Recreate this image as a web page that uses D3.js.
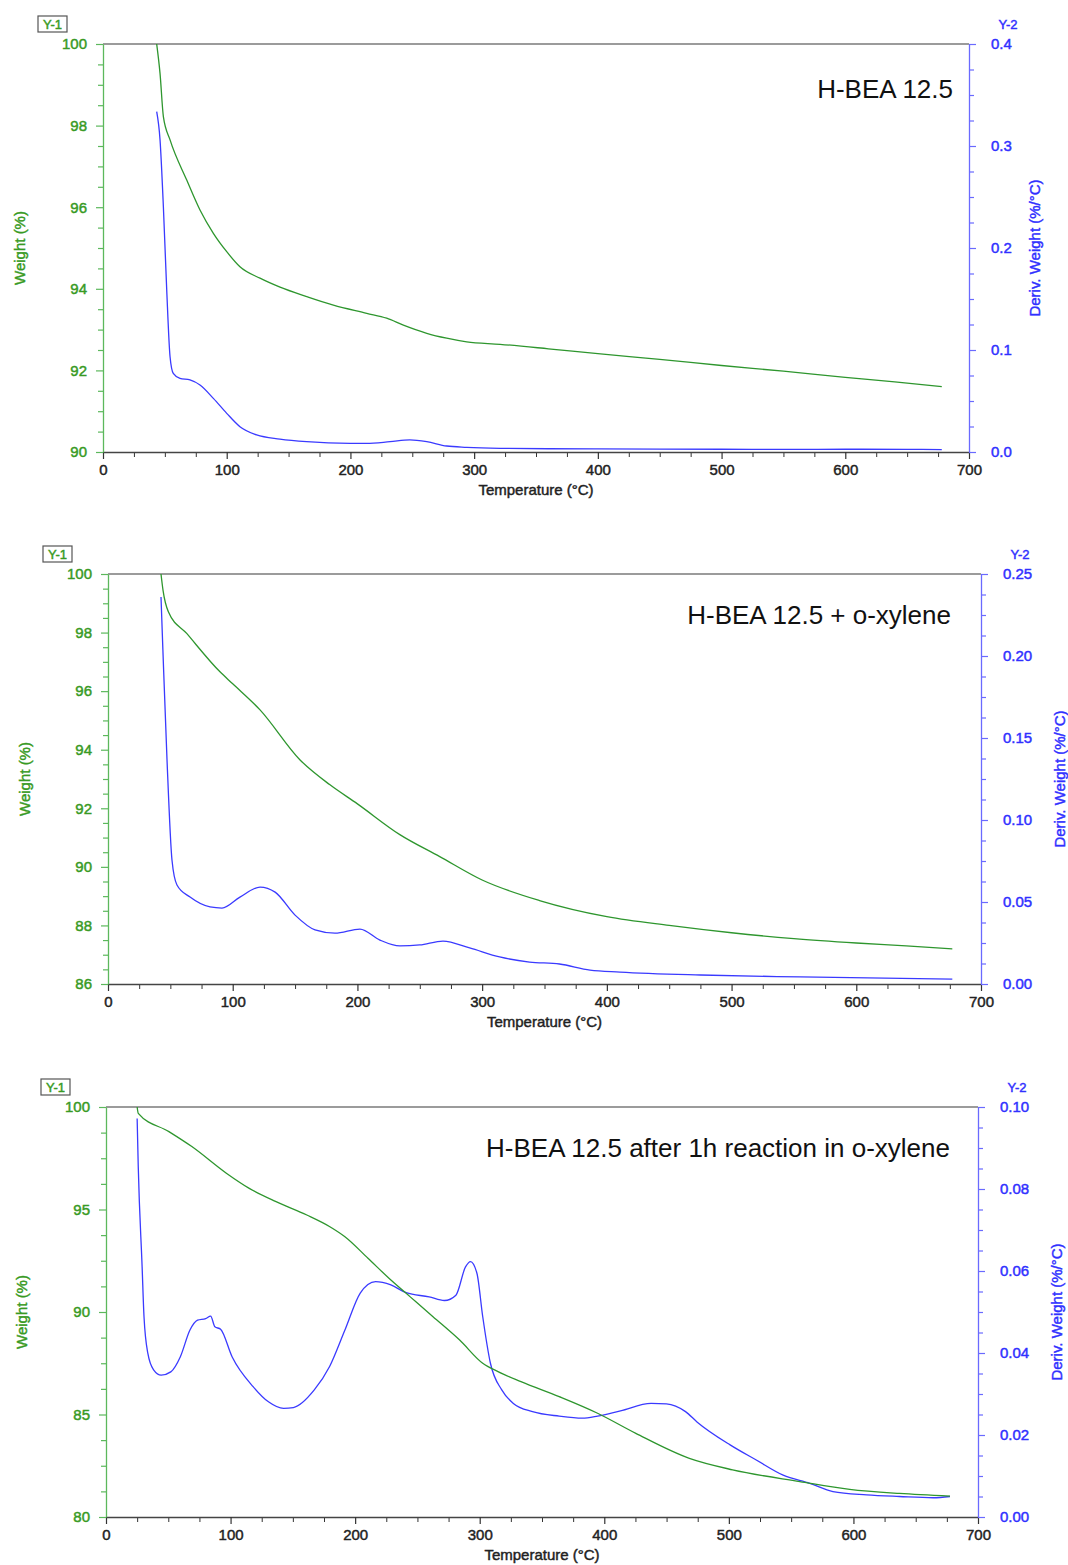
<!DOCTYPE html>
<html>
<head>
<meta charset="utf-8">
<script src="https://cdn.jsdelivr.net/npm/d3@7"></script>
<style>
  body { margin: 0; background: #fff; }
  svg { display: block; font-family: "Liberation Sans", Arial, sans-serif; }
  .heavy { stroke-width: 0.45px; }
</style>
</head>
<body>
<svg id="chart"></svg>
<script>
// ---- data ----
var xTicks = [0, 100, 200, 300, 400, 500, 600, 700];

// H-BEA 12.5
var wT1 = [43.4, 46.1, 48.8, 54.2, 67.6, 78.4, 89.2, 100, 110.7, 126.9, 143.1, 164.6, 186.2, 213.2, 229.3, 242.8, 261.7, 277.8, 294, 321, 360, 400, 450, 500, 550, 600, 640, 678];
var w1  = [100, 99.28, 98.22, 97.65, 96.67, 95.93, 95.36, 94.91, 94.54, 94.26, 94.04, 93.81, 93.60, 93.40, 93.28, 93.11, 92.91, 92.79, 92.70, 92.64, 92.53, 92.41, 92.27, 92.12, 91.98, 91.83, 91.72, 91.60];
var dT1 = [43.4, 46.1, 48.8, 51.5, 54.2, 56.8, 62.2, 70.3, 78.4, 89.2, 100, 110.7, 124.2, 143, 164.6, 199.7, 213, 232, 248, 261.7, 277.8, 294, 321, 360, 400, 450, 500, 550, 600, 650, 678];
var d1  = [0.3336, 0.306, 0.2405, 0.159, 0.0934, 0.0771, 0.0722, 0.0706, 0.0657, 0.0526, 0.0379, 0.0248, 0.0167, 0.0127, 0.0101, 0.0085, 0.0085, 0.0101, 0.0118, 0.0101, 0.0059, 0.0046, 0.0036, 0.0032, 0.003, 0.0028, 0.0027, 0.0026, 0.0027, 0.0026, 0.0024];
var y1Ticks1 = [90, 92, 94, 96, 98, 100];
var y2Ticks1 = [0, 0.1, 0.2, 0.3, 0.4];

// H-BEA 12.5 + o-xylene
var wT2 = [42.5, 44.1, 48.4, 63.1, 89.8, 100, 121.9, 154, 178, 200, 234, 266, 300, 346, 400, 450, 500, 550, 600, 640, 677];
var w2  = [100, 99.45, 98.71, 97.97, 96.66, 96.25, 95.36, 93.65, 92.8, 92.15, 91.1, 90.35, 89.55, 88.85, 88.3, 88.0, 87.75, 87.55, 87.4, 87.3, 87.2];
var dT2 = [42.5, 44, 47.3, 51.3, 55.3, 65.8, 81.8, 91.4, 105.8, 121.9, 134, 150, 166, 182, 202, 218, 234, 250, 268.6, 290, 314, 338, 362, 386.5, 410.5, 475, 555, 677];
var d2  = [0.236, 0.204, 0.137, 0.0756, 0.0604, 0.053, 0.047, 0.0463, 0.053, 0.0591, 0.056, 0.042, 0.033, 0.031, 0.0335, 0.0268, 0.0232, 0.0238, 0.0262, 0.022, 0.0165, 0.0134, 0.0122, 0.0085, 0.0073, 0.0055, 0.0043, 0.003];
var y1Ticks2 = [86, 88, 90, 92, 94, 96, 98, 100];
var y2Ticks2 = [0, 0.05, 0.10, 0.15, 0.20, 0.25];

// H-BEA 12.5 after 1h reaction in o-xylene
var wT3 = [25, 25.9, 50.5, 68.9, 96.6, 115, 136.5, 161.2, 179.7, 191.8, 210.3, 228.7, 244, 262.5, 283.9, 302.4, 314.7, 333.1, 363.8, 394.6, 425.3, 468.3, 503, 557, 597, 637, 677.5];
var w3  = [100, 99.69, 98.8, 98.07, 96.77, 96.03, 95.38, 94.73, 94.16, 93.67, 92.62, 91.56, 90.75, 89.77, 88.63, 87.5, 87.09, 86.6, 85.87, 85.06, 84.08, 82.86, 82.3, 81.73, 81.35, 81.15, 81.02];
var dT3 = [25, 25.9, 29, 30.5, 33.6, 38.2, 44.3, 52, 59.7, 67.4, 73.5, 80, 84, 87.4, 92, 101.2, 118.1, 130.4, 142.6, 150.4, 167.2, 179.5, 191.8, 204.1, 216.4, 228.7, 241, 259.4, 271.7, 280.9, 288.6, 292.6, 297.8, 302.4, 308.6, 317.7, 327, 342.4, 363.8, 382.3, 394.6, 413, 437.6, 449.9, 465.2, 474.4, 501, 522, 543.6, 565, 583.6, 610.6, 637, 664, 677.5];
var d3v = [0.0972, 0.0854, 0.061, 0.0489, 0.0399, 0.0359, 0.0346, 0.0354, 0.0391, 0.0456, 0.048, 0.0484, 0.049, 0.0464, 0.0458, 0.0391, 0.0318, 0.0281, 0.0265, 0.0267, 0.031, 0.0367, 0.0456, 0.0546, 0.0574, 0.0566, 0.0547, 0.0537, 0.0528, 0.0541, 0.061, 0.0623, 0.0594, 0.0489, 0.0375, 0.031, 0.0277, 0.0257, 0.0246, 0.0241, 0.0246, 0.0259, 0.0277, 0.0276, 0.0257, 0.0232, 0.0176, 0.0139, 0.0102, 0.0082, 0.0062, 0.0054, 0.005, 0.0047, 0.005];
var y1Ticks3 = [80, 85, 90, 95, 100];
var y2Ticks3 = [0, 0.02, 0.04, 0.06, 0.08, 0.10];

// ---- layout ----
var GREEN = "#2e962e", GREEN_TXT = "#389a24", GREEN_AX = "#5cb85c";
var BLUE = "#3a3aff", BLUE_TXT = "#3030ff", BLUE_AX = "#6a6aff";

var panels = [
  { left: 103, right: 969, top: 44, bottom: 452, title: "H-BEA 12.5", titleX: 953, titleY: 98,
    wT: wT1, w: w1, dT: dT1, d: d1, y1Ticks: y1Ticks1, y1Minor: 0.5, y1Fmt: d3.format("d"),
    y2Ticks: y2Ticks1, y2Minor: 0.025, y2Fmt: d3.format(".1f"), wLabelX: 20, dLabelX: 1035 },
  { left: 108, right: 981, top: 574, bottom: 984, title: "H-BEA 12.5 + o-xylene", titleX: 951, titleY: 624,
    wT: wT2, w: w2, dT: dT2, d: d2, y1Ticks: y1Ticks2, y1Minor: 0.5, y1Fmt: d3.format("d"),
    y2Ticks: y2Ticks2, y2Minor: 0.0125, y2Fmt: d3.format(".2f"), wLabelX: 25, dLabelX: 1060 },
  { left: 106, right: 978, top: 1107, bottom: 1517, title: "H-BEA 12.5 after 1h reaction in o-xylene", titleX: 950, titleY: 1157,
    wT: wT3, w: w3, dT: dT3, d: d3v, y1Ticks: y1Ticks3, y1Minor: 1.25, y1Fmt: d3.format("d"),
    y2Ticks: y2Ticks3, y2Minor: 0.005, y2Fmt: d3.format(".2f"), wLabelX: 22, dLabelX: 1057 }
];

var svg = d3.select("#chart").attr("width", 1068).attr("height", 1565);

function minorTicks(ticks, step) {
  var lo = d3.min(ticks), hi = d3.max(ticks);
  return d3.range(lo, hi + step / 2, step).filter(function (v) {
    return ticks.every(function (t) { return Math.abs(t - v) > step / 10; });
  });
}

// heavier text like the instrument software export
function heavy(sel, color) {
  sel.attr("fill", color).attr("stroke", color).attr("class", "heavy");
}

function styleAxis(g, lineColor, textColor) {
  g.select(".domain").attr("stroke", lineColor).attr("stroke-width", 1.3);
  g.selectAll(".tick line").attr("stroke", lineColor).attr("stroke-width", 1.2);
  g.selectAll("text").attr("font-size", 15)
    .attr("font-family", "'Liberation Sans', Arial, sans-serif")
    .call(heavy, textColor);
}

panels.forEach(function (p) {
  var x = d3.scaleLinear().domain([0, 700]).range([p.left, p.right]);
  var y1 = d3.scaleLinear().domain(d3.extent(p.y1Ticks)).range([p.bottom, p.top]);
  var y2 = d3.scaleLinear().domain(d3.extent(p.y2Ticks)).range([p.bottom, p.top]);
  var g = svg.append("g");

  // top frame line
  g.append("line").attr("x1", p.left).attr("x2", p.right).attr("y1", p.top).attr("y2", p.top)
    .attr("stroke", "#7a7a7a").attr("stroke-width", 1.5);

  // minor ticks
  g.append("g").attr("transform", "translate(0," + p.bottom + ")")
    .call(d3.axisBottom(x).tickValues(minorTicks(xTicks, 25)).tickSize(5).tickFormat("").tickSizeOuter(0))
    .call(function (a) { a.select(".domain").remove(); a.selectAll("line").attr("stroke", "#333"); });
  g.append("g").attr("transform", "translate(" + p.left + ",0)")
    .call(d3.axisLeft(y1).tickValues(minorTicks(p.y1Ticks, p.y1Minor)).tickSize(5).tickFormat("").tickSizeOuter(0))
    .call(function (a) { a.select(".domain").remove(); a.selectAll("line").attr("stroke", GREEN_AX).attr("stroke-width", 1.2); });
  g.append("g").attr("transform", "translate(" + p.right + ",0)")
    .call(d3.axisRight(y2).tickValues(minorTicks(p.y2Ticks, p.y2Minor)).tickSize(5).tickFormat("").tickSizeOuter(0))
    .call(function (a) { a.select(".domain").remove(); a.selectAll("line").attr("stroke", BLUE_AX).attr("stroke-width", 1.2); });

  // major axes
  var xAx = g.append("g").attr("transform", "translate(0," + p.bottom + ")")
    .call(d3.axisBottom(x).tickValues(xTicks).tickSize(7).tickPadding(5).tickSizeOuter(0));
  styleAxis(xAx, "#333", "#222");
  xAx.select(".domain").attr("stroke", "#444").attr("stroke-width", 1.5);

  var yAx1 = g.append("g").attr("transform", "translate(" + p.left + ",0)")
    .call(d3.axisLeft(y1).tickValues(p.y1Ticks).tickFormat(p.y1Fmt).tickSize(7).tickPadding(9).tickSizeOuter(0));
  styleAxis(yAx1, GREEN_AX, GREEN_TXT);

  var yAx2 = g.append("g").attr("transform", "translate(" + p.right + ",0)")
    .call(d3.axisRight(y2).tickValues(p.y2Ticks).tickFormat(p.y2Fmt).tickSize(7).tickPadding(15).tickSizeOuter(0));
  styleAxis(yAx2, BLUE_AX, BLUE_TXT);

  // curves
  var wLine = d3.line().x(function (d) { return x(d[0]); }).y(function (d) { return y1(d[1]); }).curve(d3.curveMonotoneX);
  var dLine = d3.line().x(function (d) { return x(d[0]); }).y(function (d) { return y2(d[1]); }).curve(d3.curveMonotoneX);

  g.append("path").datum(d3.zip(p.dT, p.d)).attr("d", dLine)
    .attr("fill", "none").attr("stroke", BLUE).attr("stroke-width", 1.3);
  g.append("path").datum(d3.zip(p.wT, p.w)).attr("d", wLine)
    .attr("fill", "none").attr("stroke", GREEN).attr("stroke-width", 1.3);

  // texts
  g.append("text").attr("x", p.titleX).attr("y", p.titleY).attr("text-anchor", "end")
    .attr("font-size", 26).attr("fill", "#111").text(p.title);

  g.append("text").attr("x", (p.left + p.right) / 2).attr("y", p.bottom + 43).attr("text-anchor", "middle")
    .attr("font-size", 15).call(heavy, "#222").text("Temperature (°C)");

  var midY = (p.top + p.bottom) / 2;
  g.append("text").attr("transform", "translate(" + (p.wLabelX + 5) + "," + midY + ") rotate(-90)")
    .attr("text-anchor", "middle").attr("font-size", 15).call(heavy, GREEN_TXT).text("Weight (%)");
  g.append("text").attr("transform", "translate(" + (p.dLabelX + 5) + "," + midY + ") rotate(-90)")
    .attr("text-anchor", "middle").attr("font-size", 15).call(heavy, BLUE_TXT).text("Deriv. Weight (%/°C)");

  // Y-1 / Y-2 tags
  g.append("rect").attr("x", p.left - 65).attr("y", p.top - 28).attr("width", 29).attr("height", 16)
    .attr("fill", "#fff").attr("stroke", "#555").attr("stroke-width", 1.2);
  g.append("text").attr("x", p.left - 50.5).attr("y", p.top - 15).attr("text-anchor", "middle")
    .attr("font-size", 13).call(heavy, GREEN_TXT).text("Y-1");
  g.append("text").attr("x", p.right + 39).attr("y", p.top - 15).attr("text-anchor", "middle")
    .attr("font-size", 13).call(heavy, BLUE_TXT).text("Y-2");
});
</script>
</body>
</html>
